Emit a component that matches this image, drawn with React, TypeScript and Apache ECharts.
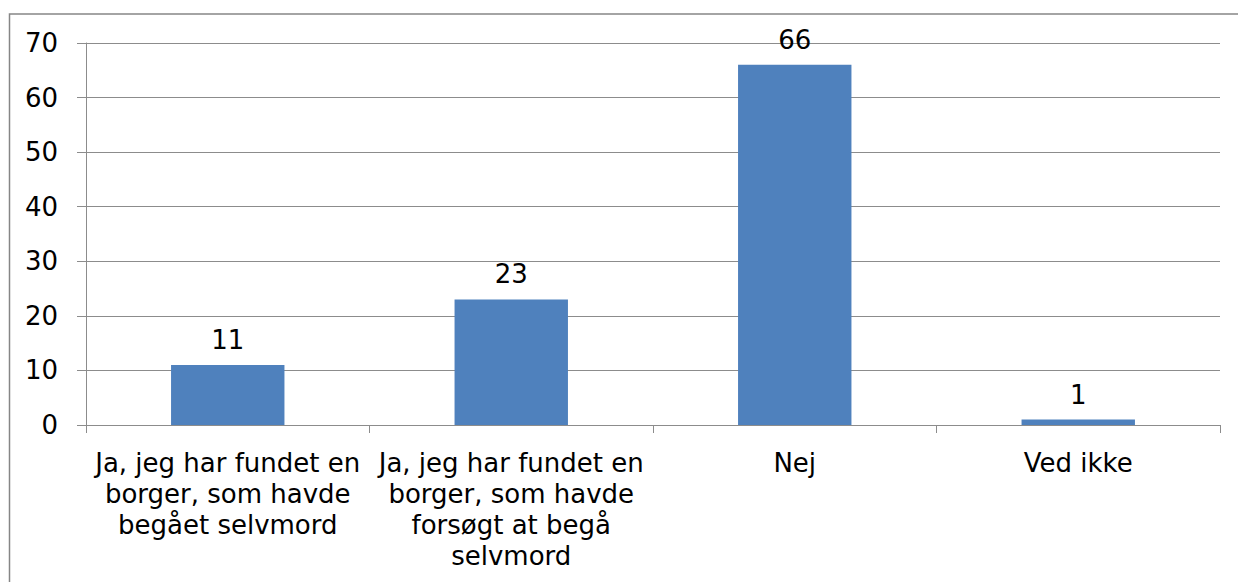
import React, { useEffect, useRef } from "react";
import * as echarts from "echarts";

const categories: string[] = [
  "Ja, jeg har fundet en\nborger, som havde\nbegået selvmord",
  "Ja, jeg har fundet en\nborger, som havde\nforsøgt at begå\nselvmord",
  "Nej",
  "Ved ikke",
];
const values: number[] = [11, 23, 66, 1];
const yTicks = { min: 0, max: 70, interval: 10 };

const FONT = "'DejaVu Sans', Verdana, sans-serif";
const FS = 26;

export default function App() {
  const ref = useRef<HTMLDivElement>(null);
  useEffect(() => {
    if (!ref.current) return;
    const chart = echarts.init(ref.current, undefined, { renderer: "svg" });
    chart.setOption({
      animation: false,
      backgroundColor: "#ffffff",
      textStyle: { fontFamily: FONT },
      graphic: [
        {
          type: "rect",
          shape: { x: 9.5, y: 14, width: 1240, height: 600 },
          style: { fill: "none", stroke: "#868686", lineWidth: 1.5 },
          silent: true,
        },
      ],
      grid: { left: 86, right: 18, top: 43, bottom: 157, containLabel: false },
      xAxis: {
        type: "category",
        data: categories,
        axisLine: { show: true, lineStyle: { color: "#8c8c8c", width: 1 } },
        axisTick: { show: true, alignWithLabel: false, length: 8, lineStyle: { color: "#8c8c8c" } },
        axisLabel: {
          interval: 0,
          color: "#000000",
          fontSize: FS,
          fontFamily: FONT,
          lineHeight: 31,
          margin: 22,
          align: "center",
        },
        splitLine: { show: false },
      },
      yAxis: {
        type: "value",
        min: yTicks.min,
        max: yTicks.max,
        interval: yTicks.interval,
        axisLine: { show: true, lineStyle: { color: "#8c8c8c", width: 1 } },
        axisTick: { show: true, length: 9, lineStyle: { color: "#8c8c8c" } },
        axisLabel: { color: "#000000", fontSize: FS, fontFamily: FONT, margin: 28 },
        splitLine: { show: true, lineStyle: { color: "#8c8c8c", width: 1 } },
      },
      series: [
        {
          type: "bar",
          data: values,
          barWidth: "40%",
          itemStyle: { color: "#4F81BD" },
          label: {
            show: true,
            position: "top",
            distance: 12,
            color: "#000000",
            fontSize: FS,
            fontFamily: FONT,
          },
        },
      ],
    });
    return () => chart.dispose();
  }, []);
  return (
    <div
      ref={ref}
      style={{ position: "fixed", left: 0, top: 0, width: 1238, height: 582 }}
    />
  );
}
